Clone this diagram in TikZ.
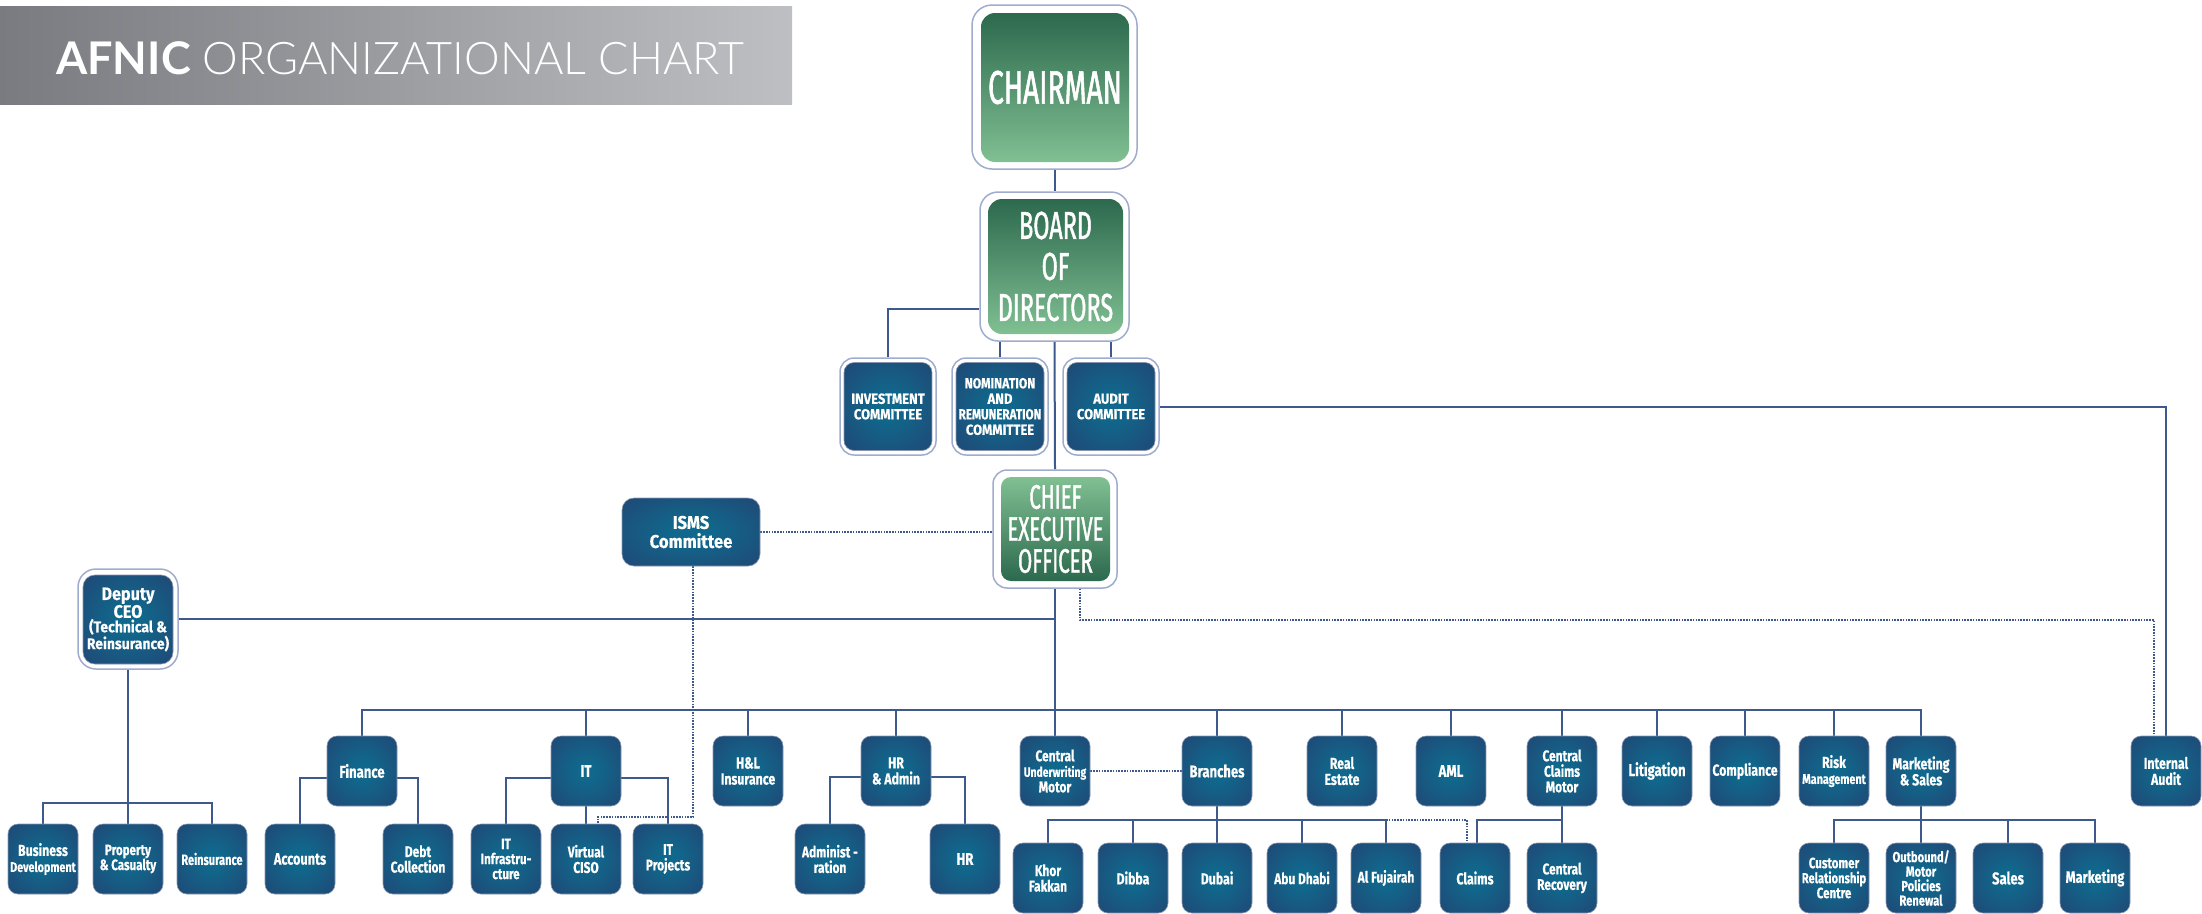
\documentclass[tikz,border=0pt]{standalone}
\usepackage{fontspec}
\usepackage{graphicx}
\setmainfont{Fira Sans}
\newfontfamily\boxfont[FakeStretch=0.77, FakeBold=0.4]{Fira Sans}
\newfontfamily\cfont[FakeStretch=0.9, FakeBold=0.4]{Fira Sans}
\newfontfamily\bigfont[FakeStretch=0.6, FakeBold=1.2]{Fira Sans}
\newfontfamily\titlelight{Lato Light}
\newfontfamily\titlebold{Lato}
\newcommand\sq[2]{\scalebox{#1}[1]{#2}}
\usetikzlibrary{calc}
\definecolor{navye}{RGB}{36,64,112}
\definecolor{navyc}{RGB}{16,104,140}
\definecolor{lineC}{RGB}{62,90,140}
\definecolor{frameC}{RGB}{160,172,205}
\definecolor{greenD}{RGB}{44,105,78}
\definecolor{greenL}{RGB}{128,192,146}
\definecolor{titleL}{RGB}{122,123,128}
\definecolor{titleR}{RGB}{190,191,194}
\pgfdeclareradialshading{navyrad}{\pgfpoint{0bp}{0bp}}{color(0bp)=(navyc); color(6bp)=(navyc); color(44bp)=(navye); color(50bp)=(navye)}
\pgfdeclarelayer{bg}
\pgfsetlayers{bg,main}
\tikzset{
  sbox/.style={rounded corners=10pt, minimum width=70pt, minimum height=70pt, inner sep=0pt,
    align=center, text=white, shading=navyrad, draw=navye!55!white, line width=0.6pt,
    font=\boxfont\bfseries\fontsize{15}{15}\selectfont},
  fs/.style={font=\boxfont\bfseries\fontsize{#1}{#1}\selectfont},
  cbox/.style={sbox, minimum width=88pt, minimum height=88pt,
    font=\cfont\bfseries\fontsize{14.5}{15.5}\selectfont},
  frame/.style={draw=frameC, line width=1.5pt, fill=white, inner sep=0pt},
  gbox/.style={top color=greenD, bottom color=greenL, rounded corners=14pt, inner sep=0pt,
    text=white, align=center},
  conn/.style={draw=lineC, line width=2pt},
  dotline/.style={draw=lineC, line width=1.6pt, dash pattern=on 1.6pt off 1.2pt},
}
\begin{document}
\begin{tikzpicture}[x=1pt,y=-1pt]
\useasboundingbox (0,0) rectangle (2202,913);
% title
\node[anchor=north west, minimum width=792pt, minimum height=98pt, inner sep=0pt,
  left color=titleL, right color=titleR] (bar) at (0,6) {};
\node[anchor=base west, inner sep=0pt, text=white, font=\fontsize{45}{50}\selectfont] (title) at (56,74)
  {{\titlebold\bfseries AFNIC} \titlelight ORGANIZATIONAL CHART};
% chairman
\node[frame, rounded corners=20pt, minimum width=165pt, minimum height=164pt] (chairO) at (1054.5,87) {};
\node[gbox, minimum width=148pt, minimum height=149pt, font=\bigfont\fontsize{47}{48}\selectfont] (chair) at (1055,87.5) {CHAIRMAN};
% board
\node[frame, rounded corners=18pt, minimum width=149pt, minimum height=149pt] (boardO) at (1054.5,266.5) {};
\node[gbox, minimum width=135pt, minimum height=135pt, font=\bigfont\fontsize{39}{41}\selectfont] (board) at (1055.5,266.5) {BOARD\\OF\\DIRECTORS};
% committees
\node[frame, rounded corners=14pt, minimum width=96pt, minimum height=97pt] (invO) at (888,406.5) {};
\node[cbox] (inv) at (888,406.5) {INVESTMENT\\COMMITTEE};
\node[frame, rounded corners=14pt, minimum width=96pt, minimum height=97pt] (nomO) at (1000,406.5) {};
\node[cbox] (nom) at (1000,406.5) {\sq{0.93}{NOMINATION}\\AND\\\sq{0.89}{REMUNERATION}\\COMMITTEE};
\node[frame, rounded corners=14pt, minimum width=96pt, minimum height=97pt] (audO) at (1111,406.5) {};
\node[cbox] (aud) at (1111,406.5) {AUDIT\\COMMITTEE};
% CEO
\node[frame, rounded corners=14pt, minimum width=124pt, minimum height=118pt] (ceoO) at (1055,529) {};
\node[gbox, top color=greenL, bottom color=greenD, rounded corners=10pt, minimum width=109pt, minimum height=104pt,
  font=\bigfont\fontsize{34}{32}\selectfont] (ceo) at (1055.5,529) {CHIEF\\EXECUTIVE\\OFFICER};
% ISMS
\node[sbox, rounded corners=12pt, minimum width=138pt, minimum height=68pt,
  font=\cfont\bfseries\fontsize{18.5}{19}\selectfont] (isms) at (691,532) {ISMS\\Committee};
% Deputy CEO
\node[frame, rounded corners=18pt, minimum width=100pt, minimum height=100pt] (depO) at (128,619) {};
\node[sbox, rounded corners=12pt, minimum width=90pt, minimum height=89pt,
  font=\cfont\bfseries\fontsize{15.5}{14.5}\selectfont] (dep) at (128,619.5)
  {{\fontsize{18}{20}\selectfont Deputy}\\{\fontsize{18}{20}\selectfont CEO}\\(Technical \&\\Reinsurance)};
% level 2
\node[sbox, fs=17] (fin) at (362,771) {Finance};
\node[sbox, fs=17] (it) at (586,771) {IT};
\node[sbox, fs=16] (hl) at (748,771) {H\&L\\Insurance};
\node[sbox, fs=16] (hra) at (896,771) {HR\\\& Admin};
\node[sbox, fs=15.5] (cum) at (1055,771) {Central\\{\fontsize{13.5}{15}\selectfont Underwriting}\\Motor};
\node[sbox, fs=17] (bra) at (1217,771) {Branches};
\node[sbox, fs=16] (re) at (1342,771) {Real\\Estate};
\node[sbox, fs=17] (aml) at (1451,771) {AML};
\node[sbox, fs=15.5] (ccm) at (1562,771) {Central\\Claims\\Motor};
\node[sbox, fs=17] (lit) at (1657,771) {Litigation};
\node[sbox, fs=16] (comp) at (1745,771) {Compliance};
\node[sbox, fs=16] (risk) at (1834,771) {Risk\\{\fontsize{14}{15}\selectfont Management}};
\node[sbox, fs=16] (ms) at (1921,771) {Marketing\\\& Sales};
\node[sbox, fs=16] (iaudit) at (2166,771) {Internal\\Audit};
% level 3, row A
\node[sbox, fs=16] (bd) at (43,859) {Business\\{\fontsize{14}{15}\selectfont Development}};
\node[sbox] (pc) at (128,859) {Property\\\& Casualty};
\node[sbox] (rei) at (212,859) {\sq{0.95}{Reinsurance}};
\node[sbox, fs=16.5] (acc) at (300,859) {Accounts};
\node[sbox, fs=15.5] (debt) at (418,859) {Debt\\Collection};
\node[sbox] (itinf) at (506,859) {IT\\Infrastru-\\cture};
\node[sbox, fs=15.5] (vciso) at (586,859) {Virtual\\CISO};
\node[sbox, fs=15.5] (itp) at (668,859) {IT\\Projects};
\node[sbox, fs=15.5] (adm) at (830,859) {Administ -\\ration};
\node[sbox, fs=17] (hr) at (965,859) {HR};
% level 3, row B
\node[sbox, fs=15.5] (kf) at (1048,878) {Khor\\Fakkan};
\node[sbox, fs=16] (dib) at (1133,878) {Dibba};
\node[sbox, fs=16] (dub) at (1217,878) {Dubai};
\node[sbox, fs=15.5] (abu) at (1302,878) {Abu Dhabi};
\node[sbox, fs=15.5] (alf) at (1386,878) {Al Fujairah};
\node[sbox, fs=16] (clm) at (1475,878) {Claims};
\node[sbox, fs=15.5] (crec) at (1562,878) {Central\\Recovery};
\node[sbox, fs=15] (crc) at (1834,878) {Customer\\{\fontsize{14.5}{16}\selectfont Relationship}\\Centre};
\node[sbox, fs=14.5] (outb) at (1921,878) {Outbound/\\Motor\\Policies\\Renewal};
\node[sbox, fs=17] (sal) at (2008,878) {Sales};
\node[sbox, fs=16.5] (mkt) at (2095,878) {Marketing};
% helper coordinates
\coordinate (depbus) at (128,803);
\coordinate (bbus) at (1217,820);
\coordinate (mbus) at (1921,820);
\coordinate (ismsturn) at (598,817);
\coordinate (ced) at (1080,620);
\coordinate (iad) at (2154,620);
\begin{pgfonlayer}{bg}
\draw[conn] (chairO.south) -- (boardO.north);
\draw[conn] (boardO.west) ++(0,42) -| (invO.north);
\draw[conn] (nomO.north) -- (nomO.north |- boardO.south);
\draw[conn] (audO.north) -- (audO.north |- boardO.south);
\draw[conn] (boardO.south) -- (ceoO.north);
\draw[conn] (audO.east) -| (iaudit.north);
\draw[conn] (ceoO.south) -- (cum.north);
\draw[conn] (depO.east) -- (depO.east -| ceoO.south);
\draw[conn] (depO.south) -- (depbus);
\draw[conn] (bd.north) |- (depbus) -| (rei.north);
\draw[conn] (depbus) -- (pc.north);
\draw[conn] (fin.north) -- ++(0,-26) -| (ms.north);
\foreach \n in {it,hl,hra,bra,re,aml,ccm,lit,comp,risk}
  \draw[conn] (\n.north) -- ++(0,-26);
\draw[conn] ([yshift=-7pt]fin.west) -| (acc.north);
\draw[conn] ([yshift=-7pt]fin.east) -| (debt.north);
\draw[conn] ([yshift=-7pt]it.west) -| (itinf.north);
\draw[conn] ([yshift=-7pt]it.east) -| (itp.north);
\draw[conn] (it.south) -- (vciso.north);
\draw[conn] ([yshift=-6pt]hra.west) -| (adm.north);
\draw[conn] ([yshift=-6pt]hra.east) -| (hr.north);
\draw[conn] (bra.south) -- (dub.north);
\draw[conn] (kf.north) |- (bbus) -| (alf.north);
\draw[conn] (dib.north) -- (dib.north |- bbus);
\draw[conn] (abu.north) -- (abu.north |- bbus);
\draw[dotline] (alf.north |- bbus) -| ([xshift=-8pt]clm.north);
\draw[conn] (ccm.south) -- (crec.north);
\draw[conn] (ccm.south |- bbus) -| ([xshift=2pt]clm.north);
\draw[dotline] (cum.east) -- (bra.west);
\draw[conn] (ms.south) -- (outb.north);
\draw[conn] (crc.north) |- (mbus) -| (mkt.north);
\draw[conn] (sal.north) -- (sal.north |- mbus);
\draw[dotline] (isms.east) -- (isms.east -| ceoO.west);
\draw[dotline] ([xshift=2pt]isms.south) |- (ismsturn) -- (ismsturn |- vciso.north);
\draw[dotline] (ceoO.south -| ced) -- (ced) -- (iad) -- (iad |- iaudit.north);
\end{pgfonlayer}
\end{tikzpicture}
\end{document}
